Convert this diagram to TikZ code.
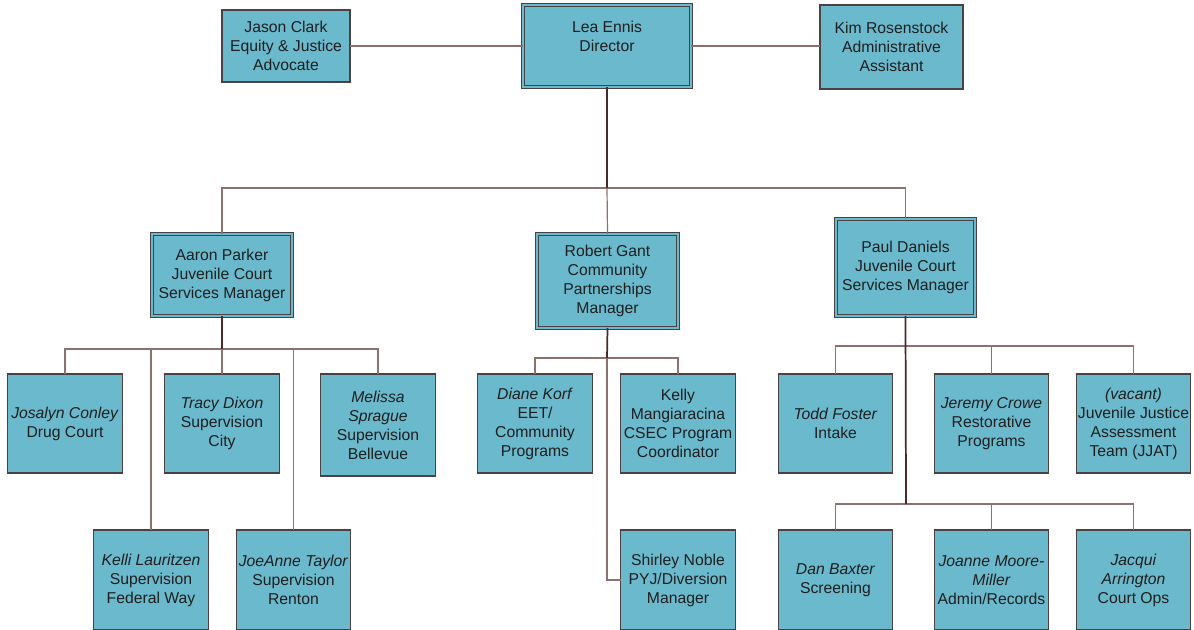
\documentclass[tikz,border=0pt]{standalone}
\usepackage{fontspec}
\setmainfont{Liberation Sans}
\begin{document}
\begin{tikzpicture}[x=0.75pt,y=-0.75pt,
  every node/.style={inner sep=0pt,outer sep=0pt,align=center,text=black!88,
    font=\fontsize{11.8}{14.25}\selectfont},
  box/.style={draw=boxline,fill=boxfill,line width=0.8pt,rectangle},
  dbox/.style={draw=boxline,double=boxfill,double distance=1.9pt,line width=0.7pt,fill=boxfill,rectangle},
  sbox/.style={box,minimum width=86pt,minimum height=74.25pt},
  tbox/.style={box,minimum width=86pt,minimum height=75pt},
  conn/.style={draw=connc,line width=0.9pt},
  trunk/.style={draw=trunkc,line width=1.3pt}]
\definecolor{boxfill}{HTML}{6BB9CD}
\definecolor{boxline}{HTML}{4A4242}
\definecolor{connc}{HTML}{8C716C}
\definecolor{trunkc}{HTML}{4A2A28}
\useasboundingbox (0,0) rectangle (1194,630);
% top row
\node[box,minimum width=96pt,minimum height=54pt] (jason) at (286,46) {Jason Clark\\Equity \& Justice\\Advocate};
\node[dbox,minimum width=126pt,minimum height=61.5pt] (lea) at (607,46) {};
\node (leatxt) at (607,36.5) {Lea Ennis\\Director};
\node[box,minimum width=107.25pt,minimum height=63pt] (kim) at (891.5,47) {Kim Rosenstock\\Administrative\\Assistant};
% managers
\node[dbox,minimum width=105pt,minimum height=61.5pt] (aaron) at (222,275) {Aaron Parker\\Juvenile Court\\Services Manager};
\node[dbox,minimum width=105.75pt,minimum height=70.5pt] (robert) at (607.5,281) {Robert Gant\\Community\\Partnerships\\Manager};
\node[dbox,minimum width=104.25pt,minimum height=72.75pt] (paul) at (905.5,267.5) {Paul Daniels\\Juvenile Court\\Services Manager};
% Aaron's staff
\node[sbox] (josalyn) at (65,423.5) {\textit{Josalyn Conley}\\Drug Court};
\node[sbox] (tracy) at (222,423.5) {\textit{Tracy Dixon}\\Supervision\\City};
\node[sbox,minimum height=76.5pt] (melissa) at (378,425) {\textit{Melissa}\\\textit{Sprague}\\Supervision\\Bellevue};
\node[tbox] (kelli) at (151,580) {\textit{Kelli Lauritzen}\\Supervision\\Federal Way};
\node[tbox] (joanne) at (293.5,580) {\textit{JoeAnne Taylor}\\Supervision\\Renton};
% Robert's staff
\node[sbox] (diane) at (535,423.5) {\textit{Diane Korf}\\EET/\\Community\\Programs};
\node[sbox] (kelly) at (678,423.5) {Kelly\\Mangiaracina\\CSEC Program\\Coordinator};
\node[tbox] (shirley) at (678,580) {Shirley Noble\\PYJ/Diversion\\Manager};
% Paul's staff
\node[sbox] (todd) at (835.5,423.5) {\textit{Todd Foster}\\Intake};
\node[sbox] (jeremy) at (991.5,423.5) {\textit{Jeremy Crowe}\\Restorative\\Programs};
\node[sbox] (vacant) at (1133.5,423.5) {\textit{(vacant)}\\Juvenile Justice\\Assessment\\Team (JJAT)};
\node[tbox] (dan) at (835.5,580) {\textit{Dan Baxter}\\Screening};
\node[tbox] (jmm) at (991.5,580) {\textit{Joanne Moore-}\\\textit{Miller}\\Admin/Records};
\node[tbox] (jacqui) at (1133.5,580) {\textit{Jacqui}\\\textit{Arrington}\\Court Ops};
% bus points
\coordinate (topbus) at (607,188);
\coordinate (abus) at (222,349);
\coordinate (rbus) at (607,358);
\coordinate (pbus1) at (906,346);
\coordinate (pbus2) at (906,504);
% connectors
\draw[conn] (jason.east) -- (lea.west);
\draw[conn] (lea.east) -- (lea.east -| kim.west);
\draw[conn] (topbus) -| (aaron.north);
\draw[conn] (topbus) -- (robert.north);
\draw[conn] (topbus) -| (paul.north);
\draw[trunk] (lea.south) -- (topbus);
\draw[conn] (abus) -| (josalyn.north);
\draw[conn] (abus) -| (kelli.north);
\draw[conn] (abus) -- (tracy.north);
\draw[conn] (abus) -| (joanne.north);
\draw[conn] (abus) -| (melissa.north);
\draw[trunk] (aaron.south) -- (abus);
\draw[conn] (rbus) -| (diane.north);
\draw[conn] (rbus) -| (kelly.north);
\draw[conn] (rbus) |- (shirley.west);
\draw[trunk] (robert.south) -- (rbus);
\draw[conn] (pbus1) -| (todd.north);
\draw[conn] (pbus1) -| (jeremy.north);
\draw[conn] (pbus1) -| (vacant.north);
\draw[conn] (pbus2) -| (dan.north);
\draw[conn] (pbus2) -| (jmm.north);
\draw[conn] (pbus2) -| (jacqui.north);
\draw[trunk] (paul.south) -- (pbus2);
\end{tikzpicture}
\end{document}
